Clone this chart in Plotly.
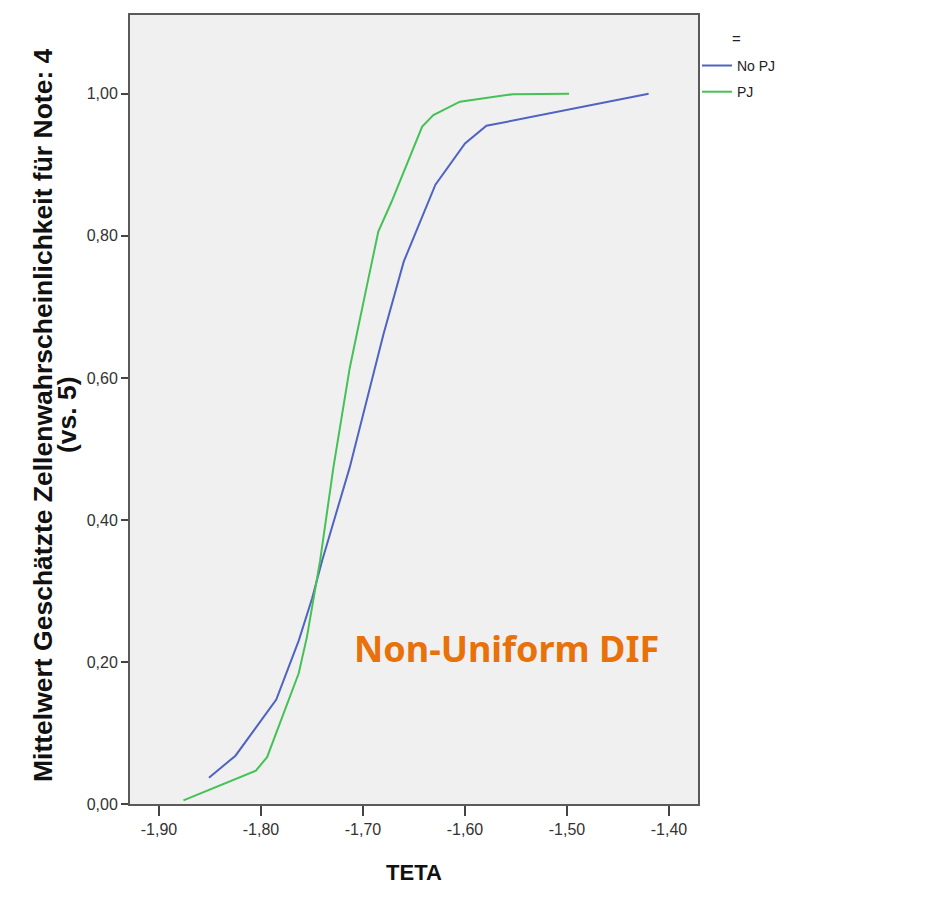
import plotly.graph_objects as go

# ---- data ----
teta_no_pj = [-1.851, -1.825, -1.785, -1.763, -1.750, -1.740, -1.713, -1.680, -1.660, -1.636, -1.629, -1.600, -1.579, -1.420]
prob_no_pj = [0.037, 0.068, 0.147, 0.230, 0.289, 0.343, 0.474, 0.661, 0.764, 0.848, 0.872, 0.930, 0.955, 1.000]

teta_pj = [-1.876, -1.805, -1.794, -1.763, -1.755, -1.742, -1.729, -1.713, -1.696, -1.685, -1.672, -1.642, -1.631, -1.605, -1.553, -1.498]
prob_pj = [0.005, 0.047, 0.066, 0.184, 0.235, 0.343, 0.474, 0.614, 0.731, 0.806, 0.848, 0.954, 0.970, 0.989, 0.9995, 1.000]

x_tickvals = [-1.90, -1.80, -1.70, -1.60, -1.50, -1.40]
x_ticktext = ["-1,90", "-1,80", "-1,70", "-1,60", "-1,50", "-1,40"]
y_tickvals = [0.0, 0.2, 0.4, 0.6, 0.8, 1.0]
y_ticktext = ["0,00", "0,20", "0,40", "0,60", "0,80", "1,00"]

series_names = ["No PJ", "PJ"]
series_colors = ["#4f63c2", "#45c155"]

y_title_line1 = "Mittelwert Geschätzte Zellenwahrscheinlichkeit für Note: 4"
y_title_line2 = "(vs. 5)"

# page has an 8px body margin; figure coordinates = page coordinates - 8
W, H = 916, 892
L, T = 122, 5
pw, ph = 568, 791
R = W - L - pw
B = H - T - ph

fig = go.Figure()
for name, xs, ys, col in zip(series_names, [teta_no_pj, teta_pj], [prob_no_pj, prob_pj], series_colors):
    fig.add_trace(go.Scatter(x=xs, y=ys, mode="lines", name=name, legendgroup=name,
                             line=dict(color=col, width=2)))

FONT = "Liberation Sans, Arial, sans-serif"
axis_font = dict(family=FONT, size=16, color="#333333")

fig.update_layout(
    width=W, height=H,
    margin=dict(l=L, r=R, t=T, b=B),
    paper_bgcolor="white",
    plot_bgcolor="#f0f0f0",
    showlegend=True,
    legend=dict(x=1.0 - 1 / pw, xanchor="left", y=1 - 35 / ph, yanchor="top",
                font=dict(family=FONT, size=14, color="#222222"),
                bgcolor="rgba(0,0,0,0)", traceorder="grouped", tracegroupgap=5,
                itemwidth=30),
    xaxis=dict(range=[-1.9284, -1.3716], tickvals=x_tickvals, ticktext=x_ticktext,
               showgrid=False, zeroline=False, showline=True, mirror=True,
               linecolor="#5a5a5a", linewidth=2, ticks="outside", ticklen=10,
               tickcolor="#444444", tickwidth=2, tickfont=axis_font,
               title=dict(text="<b>TETA</b>", font=dict(family=FONT, size=22, color="#111111"),
                          standoff=27)),
    yaxis=dict(range=[0, 1.111], tickvals=y_tickvals, ticktext=y_ticktext,
               showgrid=False, zeroline=False, showline=True, mirror=True,
               linecolor="#5a5a5a", linewidth=2, ticks="outside", ticklen=7,
               tickcolor="#444444", tickwidth=2, tickfont=axis_font),
)

# y-axis title (two lines, placed individually to match line spacing)
y_center = 1 - (406 - T) / ph
for txt, px in [(y_title_line1, 35), (y_title_line2, 59)]:
    fig.add_annotation(x=(px - L) / pw, y=y_center, xref="paper", yref="paper",
                       text="<b>" + txt + "</b>", textangle=-90, showarrow=False,
                       xanchor="center", yanchor="middle",
                       font=dict(family=FONT, size=26.5, color="#111111"))

# legend title "="
fig.add_annotation(x=1.0 + 38 / pw, y=1 - 24 / ph, xref="paper", yref="paper",
                   text="=", showarrow=False, xanchor="center", yanchor="middle",
                   font=dict(family=FONT, size=15, color="#222222"))

# orange label
fig.add_annotation(x=-1.559, y=0.219, xref="x", yref="y", text="<b>Non-Uniform DIF</b>",
                   showarrow=False, xanchor="center", yanchor="middle",
                   font=dict(family="Noto Sans, Open Sans, sans-serif", size=36, color="#e8710a"))

fig.write_html("out.html")
